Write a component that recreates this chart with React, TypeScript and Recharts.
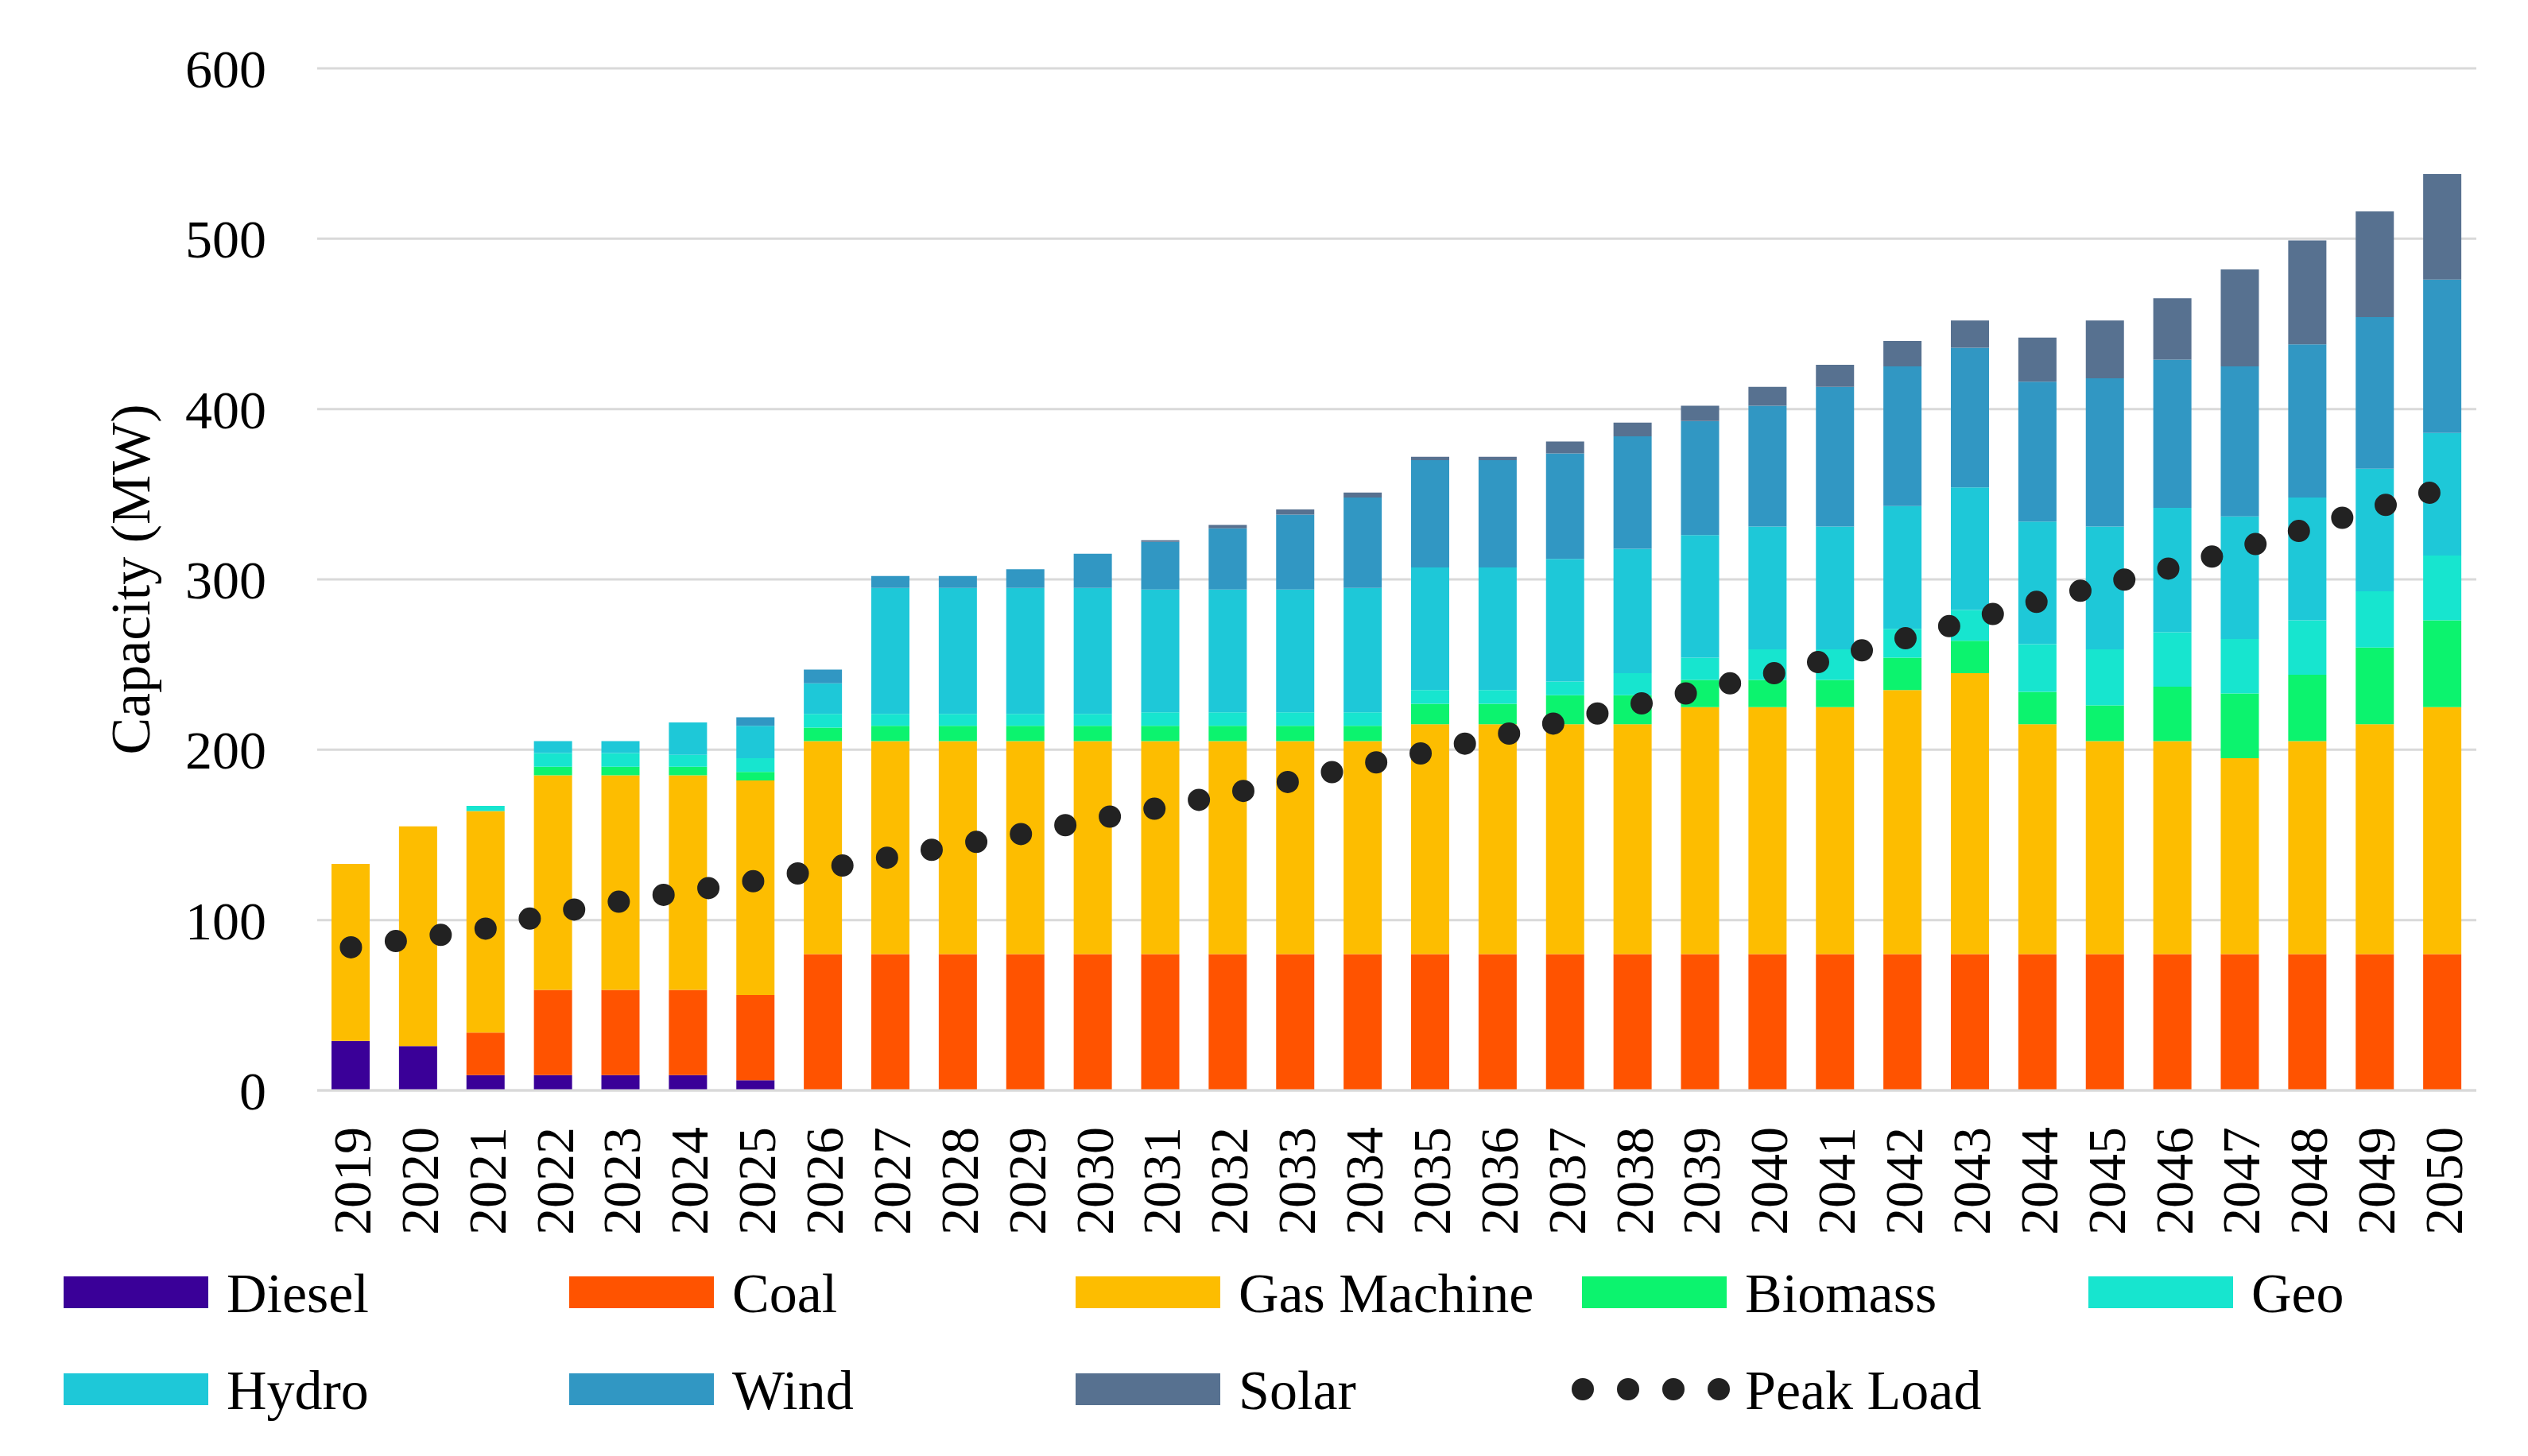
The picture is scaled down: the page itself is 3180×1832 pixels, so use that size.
import React from 'react';
import { ComposedChart, Bar, Line, XAxis, YAxis, CartesianGrid, Legend, Label } from 'recharts';

const YEARS = [2019, 2020, 2021, 2022, 2023, 2024, 2025, 2026, 2027, 2028, 2029, 2030, 2031, 2032, 2033, 2034,
  2035, 2036, 2037, 2038, 2039, 2040, 2041, 2042, 2043, 2044, 2045, 2046, 2047, 2048, 2049, 2050];

const DIESEL = [29, 26, 9, 9, 9, 9, 6, 0, 0, 0, 0, 0, 0, 0, 0, 0, 0, 0, 0, 0, 0, 0, 0, 0, 0, 0, 0, 0, 0, 0, 0, 0];
const COAL = [0, 0, 25, 50, 50, 50, 50, 80, 80, 80, 80, 80, 80, 80, 80, 80, 80, 80, 80, 80, 80, 80, 80, 80, 80, 80, 80, 80, 80, 80, 80, 80];
const GAS = [104, 129, 130, 126, 126, 126, 126, 125, 125, 125, 125, 125, 125, 125, 125, 125, 135, 135, 135, 135, 145, 145, 145, 155, 165, 135, 125, 125, 115, 125, 135, 145];
const BIOMASS = [0, 0, 0, 5, 5, 5, 5, 8, 9, 9, 9, 9, 9, 9, 9, 9, 12, 12, 17, 17, 16, 16, 16, 19, 19, 19, 21, 32, 38, 39, 45, 51];
const GEO = [0, 0, 3, 8, 8, 7, 8, 8, 7, 7, 7, 7, 8, 8, 8, 8, 8, 8, 8, 13, 13, 18, 18, 17, 18, 28, 33, 32, 32, 32, 33, 38];
const HYDRO = [0, 0, 0, 7, 7, 19, 19, 18, 74, 74, 74, 74, 72, 72, 72, 73, 72, 72, 72, 73, 72, 72, 72, 72, 72, 72, 72, 73, 72, 72, 72, 72];
const WIND = [0, 0, 0, 0, 0, 0, 5, 8, 7, 7, 11, 20, 28, 36, 44, 53, 63, 63, 62, 66, 67, 71, 82, 82, 82, 82, 87, 87, 88, 90, 89, 90];
const SOLAR = [0, 0, 0, 0, 0, 0, 0, 0, 0, 0, 0, 0, 1, 2, 3, 3, 2, 2, 7, 8, 9, 11, 13, 15, 16, 26, 34, 36, 57, 61, 62, 62];
const PEAK_LOAD = [84, 89.5, 95, 104, 111, 117, 123, 130, 137, 144, 151, 159, 166, 174, 182, 191,
  199, 208, 217, 226, 235, 244, 254, 265, 276, 287, 297, 307, 318, 330, 342, 353];

const Y_TICKS = [0, 100, 200, 300, 400, 500, 600];

const SERIES = [
  { key: 'Diesel', color: '#3A0098', values: DIESEL },
  { key: 'Coal', color: '#FF5300', values: COAL },
  { key: 'Gas Machine', color: '#FDBD00', values: GAS },
  { key: 'Biomass', color: '#0CF36E', values: BIOMASS },
  { key: 'Geo', color: '#17E5CF', values: GEO },
  { key: 'Hydro', color: '#1EC8D8', values: HYDRO },
  { key: 'Wind', color: '#3197C3', values: WIND },
  { key: 'Solar', color: '#577190', values: SOLAR },
];
const PEAK_NAME = 'Peak Load';
const PEAK_COLOR = '#222222';

const data = YEARS.map((y, i) => {
  const row: Record<string, number | string> = { year: String(y) };
  SERIES.forEach((s) => { row[s.key] = s.values[i]; });
  row[PEAK_NAME] = PEAK_LOAD[i];
  return row;
});

const FONT = '"Liberation Serif", "Times New Roman", serif';
const W = 3180;
const H = 1832;

const YearTick = (props: any) => {
  const { x, y, payload } = props;
  return (
    <text
      transform={`translate(${x},${y + 46}) rotate(-90)`}
      textAnchor="end"
      dy="0.36em"
      fontSize={68}
      fontFamily={FONT}
      fill="#000"
    >
      {payload.value}
    </text>
  );
};

const YLabel = () => (
  <text
    transform="translate(188,729) rotate(-90)"
    textAnchor="middle"
    fontSize={70}
    fontFamily={FONT}
    fill="#000"
  >
    Capacity (MW)
  </text>
);

const LEGEND_ROWS = [
  ['Diesel', 'Coal', 'Gas Machine', 'Biomass', 'Geo'],
  ['Hydro', 'Wind', 'Solar', PEAK_NAME],
];

const renderLegend = () => {
  const colX = [80, 716, 1353, 1990, 2627];
  const rowY = [66, 188];
  return (
    <svg width={W} height={260} style={{ display: 'block' }}>
      {LEGEND_ROWS.map((row, r) =>
        row.map((name, c) => {
          const x = colX[c];
          const cy = rowY[r];
          const s = SERIES.find((e) => e.key === name);
          return (
            <g key={name}>
              {s ? (
                <rect x={x} y={cy - 20} width={182} height={40} fill={s.color} />
              ) : (
                <line
                  x1={x + 1}
                  y1={cy}
                  x2={x + 176}
                  y2={cy}
                  stroke={PEAK_COLOR}
                  strokeWidth={28}
                  strokeDasharray="0 57"
                  strokeLinecap="round"
                />
              )}
              <text x={x + 205} y={cy} dy="0.35em" fontSize={70} fontFamily={FONT} fill="#000">
                {name}
              </text>
            </g>
          );
        })
      )}
    </svg>
  );
};

export default function App() {
  return (
    <div style={{ position: 'absolute', left: 0, top: 0, width: W, height: H, background: '#fff' }}>
      <ComposedChart
        width={W}
        height={H}
        data={data}
        margin={{ top: 86, right: 65, bottom: 260, left: 0 }}
      >
        <CartesianGrid vertical={false} stroke="#D9D9D9" strokeWidth={3} />
        <XAxis
          dataKey="year"
          interval={0}
          tickLine={false}
          tickSize={0}
          tickMargin={0}
          axisLine={{ stroke: '#D9D9D9', strokeWidth: 3 }}
          height={200}
          tick={<YearTick />}
        />
        <YAxis
          width={399}
          domain={[0, 600]}
          ticks={Y_TICKS}
          interval={0}
          tickLine={false}
          axisLine={false}
          tickSize={0}
          tickMargin={64}
          tick={{ fontSize: 68, fontFamily: FONT, fill: '#000' }}
        >
          <Label content={<YLabel />} />
        </YAxis>
        {SERIES.map((s) => (
          <Bar
            key={s.key}
            dataKey={s.key}
            name={s.key}
            stackId="cap"
            fill={s.color}
            barSize={48}
            isAnimationActive={false}
          />
        ))}
        <Line
          type="linear"
          dataKey={PEAK_NAME}
          name={PEAK_NAME}
          stroke={PEAK_COLOR}
          strokeWidth={28}
          strokeDasharray="0 57"
          strokeLinecap="round"
          dot={false}
          activeDot={false}
          isAnimationActive={false}
        />
        <Legend
          layout="horizontal"
          verticalAlign="middle"
          align="center"
          wrapperStyle={{ top: 1560, left: 0, width: W, height: 260 }}
          content={renderLegend}
        />
      </ComposedChart>
    </div>
  );
}
